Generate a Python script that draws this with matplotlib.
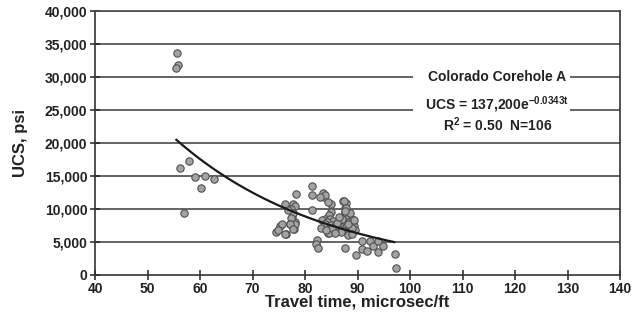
import matplotlib
matplotlib.use("Agg")
import matplotlib.pyplot as plt
import numpy as np
from matplotlib.patches import Rectangle

plt.rcParams['font.family'] = ['Liberation Sans', 'DejaVu Sans']
plt.rcParams['mathtext.fontset'] = 'custom'
plt.rcParams['mathtext.rm'] = 'Liberation Sans:bold'
plt.rcParams['mathtext.it'] = 'Liberation Sans:bold'
plt.rcParams['mathtext.bf'] = 'Liberation Sans:bold'

# Travel time (microsec/ft) and UCS (psi)
travel_time = [
    55.6, 55.9, 55.4, 56.2, 57.9, 59.1, 60.9, 60.2, 62.7, 56.9,
    81.35, 81.35, 83.4, 83.6, 78.2, 76.1, 77.8, 77.3, 77.5, 77.2,
    78.0, 77.9, 75.3, 74.5, 76.4, 81.35, 84.97, 87.2, 87.9, 87.7,
    82.2, 82.0, 82.4, 87.6, 89.75, 90.8, 90.8, 91.9, 92.3, 93.0,
    93.9, 93.9, 94.9, 97.2, 97.4, 84.3,
    83.8, 84.3, 82.9, 87.4, 87.75, 87.6, 87.9, 88.4, 88.95,
    85.0, 84.5, 83.9, 83.3, 84.8, 85.4, 84.2, 83.8, 84.9, 85.9,
    87.3, 87.8, 88.4, 89.1, 87.0, 87.9, 88.7, 89.4, 87.4, 88.4,
    84.5, 89.6, 78.0, 77.3, 77.7, 77.4, 78.0, 77.2, 77.7, 75.6,
    74.9, 76.2, 86.2, 86.6, 85.6, 88.1, 89.0, 88.6, 87.1, 86.0,
    85.2, 83.1, 86.8, 88.2, 89.3, 87.6, 84.0, 85.7, 88.9, 86.4,
    76.8,
]
ucs = [
    33700, 31760, 31400, 16100, 17300, 14800, 14950, 13100, 14500, 9300,
    13430, 12000, 12300, 11800, 12200, 10650, 10650, 10000, 8700, 7700,
    7900, 6900, 7400, 6500, 6150, 9800, 10700, 11150, 10800, 10050,
    5240, 4630, 3970, 3970, 2960, 5080, 3820, 3600, 5040, 4330,
    3460, 5040, 4370, 3070, 1030, 6250,
    12070, 10960, 11800, 11160, 10100, 9500, 8900, 8800, 8500,
    9500, 9000, 8500, 8300, 8500, 8100, 7900, 7600, 7500, 7600,
    8000, 7800, 8000, 7900, 7260, 7260, 7260, 7400, 6600, 6500,
    6250, 6750, 10400, 9900, 9300, 8600, 7600, 7600, 6900, 7600,
    6750, 6100, 7000, 8200, 6900, 6000, 7100, 9300, 8400, 7800,
    7100, 7000, 6400, 7700, 8200, 9700, 6700, 6300, 6100, 8800,
    9800,
]

# Fitted trend line parameters (from the annotation)
fit_a = 137200
fit_b = -0.0343
fit_t_start = 55.5
fit_t_end = 97.0

x_ticks = list(range(40, 141, 10))
y_ticks = list(range(0, 40001, 5000))
y_tick_labels = [f"{v:,}" for v in y_ticks]

fig = plt.figure(figsize=(6.39, 3.27), dpi=100)
ax = fig.add_axes([95/639, 1-274.5/327, (620-95)/639, (274.5-11)/327])

ax.set_xlim(40, 140)
ax.set_ylim(0, 40000)

for v in y_ticks[1:]:
    ax.axhline(v, color='#4a4a4a', lw=1.2, zorder=1)

ax.scatter(travel_time, ucs, s=28, facecolor='#a3a3a3', edgecolor='#505050',
           linewidth=0.8, zorder=3)

t = np.linspace(fit_t_start, fit_t_end, 200)
ax.plot(t, fit_a*np.exp(fit_b*t), color='#1a1a1a', lw=1.6, zorder=4)

# annotation box (covers the 30,000 and 25,000 gridlines only)
ax.add_patch(Rectangle((0.606, 0.54), 0.299, 0.26, transform=ax.transAxes,
                       facecolor='white', edgecolor='none', zorder=2))
tx = 0.766
ax.text(tx, 0.749, 'Colorado Corehole A', transform=ax.transAxes,
        ha='center', va='center', fontsize=10, fontweight='bold', zorder=5,
        color='#222222')
ax.text(tx, 0.643, r'UCS = 137,200e$^{-0.0343t}$', transform=ax.transAxes,
        ha='center', va='center', fontsize=10, fontweight='bold', zorder=5,
        color='#222222')
ax.text(tx, 0.568, r'R$^{2}$ = 0.50  N=106', transform=ax.transAxes,
        ha='center', va='center', fontsize=10, fontweight='bold', zorder=5,
        color='#222222')

ax.set_xticks(x_ticks)
ax.set_yticks(y_ticks)
ax.set_yticklabels(y_tick_labels)
ax.tick_params(direction='inout', length=7, width=1.1, labelsize=10,
               colors='#222222', pad=2)
for lab in ax.get_xticklabels() + ax.get_yticklabels():
    lab.set_fontweight('bold')

for s in ['left', 'bottom', 'right', 'top']:
    ax.spines[s].set_color('#333333')
    ax.spines[s].set_linewidth(1.2)
ax.spines['top'].set_color('#4a4a4a')

ax.set_xlabel('Travel time, microsec/ft', fontsize=12, fontweight='bold',
              color='#222222', labelpad=-1)
ax.set_ylabel('UCS, psi', fontsize=12, fontweight='bold', color='#222222',
              labelpad=12)

fig.savefig('out.png', dpi=100)
